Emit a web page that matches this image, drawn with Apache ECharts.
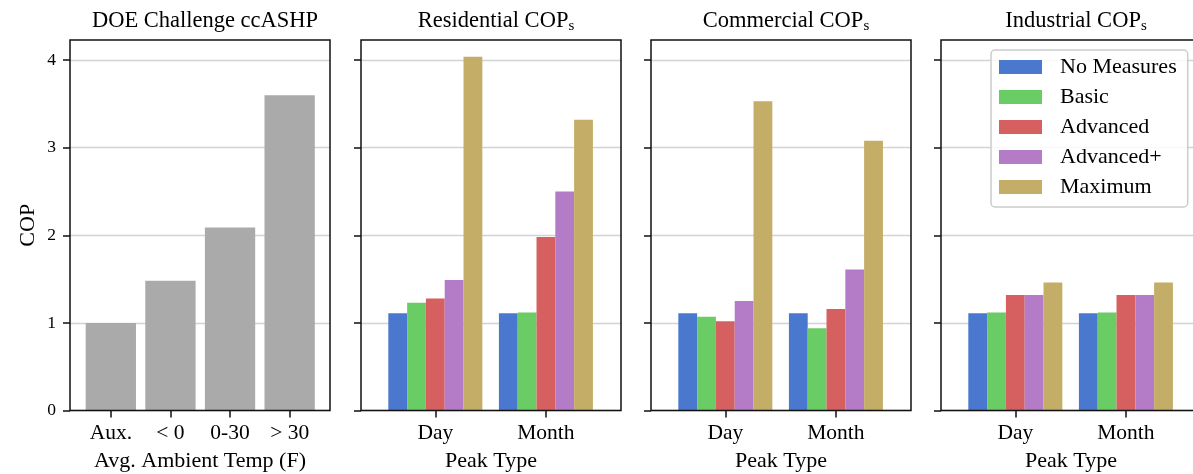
<!DOCTYPE html>
<html>
<head>
<meta charset="utf-8">
<script src="https://cdn.jsdelivr.net/npm/echarts@6.0.0/dist/echarts.min.js"></script>
<style>
  html, body { margin: 0; padding: 0; background: #fff; }
  #container { width: 1193px; height: 474px; }
</style>
</head>
<body>
<div id="container"></div>
<script>
// panel 1: DOE challenge targets
var tempBins = ['Aux.', '< 0', '0-30', '> 30'];
var doeCop = [1.0, 1.48, 2.09, 3.6];

// panels 2-4: grouped by peak type
var peakTypes = ['Day', 'Month'];
var measures = ['No Measures', 'Basic', 'Advanced', 'Advanced+', 'Maximum'];
var measureColors = ['#4a78cf', '#6acc65', '#d65f5f', '#b47cc6', '#c4ad66'];

// one row per measure, [Day, Month]
var residentialCop = [
  [1.11, 1.11],
  [1.23, 1.12],
  [1.28, 1.98],
  [1.49, 2.50],
  [4.04, 3.32]
];
var commercialCop = [
  [1.11, 1.11],
  [1.07, 0.94],
  [1.02, 1.16],
  [1.25, 1.61],
  [3.53, 3.08]
];
var industrialCop = [
  [1.11, 1.11],
  [1.12, 1.12],
  [1.32, 1.32],
  [1.32, 1.32],
  [1.46, 1.46]
];

var yTicks = [0, 1, 2, 3, 4];
var fontFam = 'Liberation Serif';

var chart = echarts.init(document.getElementById('container'));

var gridLefts = [70, 361, 651, 941];
var panelTitles = ['DOE Challenge ccASHP', 'Residential COP{s|s}', 'Commercial COP{s|s}', 'Industrial COP{s|s}'];

var grids = gridLefts.map(function (l) {
  return {
    left: l, top: 40, width: 260, height: 370.5,
    outerBoundsMode: 'none',
    containLabel: false,
    show: true, z: 3,
    backgroundColor: 'transparent',
    borderColor: '#111', borderWidth: 1.5
  };
});

var titles = gridLefts.map(function (l, i) {
  return {
    text: panelTitles[i],
    left: l + 130, top: 4, textAlign: 'center',
    textStyle: {
      fontFamily: fontFam, fontSize: 22.5, fontWeight: 'normal', color: '#000',
      lineHeight: 25,
      rich: {
        s: { fontFamily: fontFam, fontSize: 15, lineHeight: 15, verticalAlign: 'bottom', color: '#000' }
      }
    }
  };
});

function makeX(i) {
  var isFirst = i === 0;
  var labels = isFirst ? tempBins : peakTypes;
  var ticks = labels.map(function (_, k) { return k; });
  return {
    type: 'value', gridIndex: i,
    min: isFirst ? -0.685 : -0.672,
    max: isFirst ? 3.677 : 1.679,
    axisLine: { show: false, onZero: false },
    splitLine: { show: false },
    axisTick: { show: true, customValues: ticks, length: 7, lineStyle: { color: '#111', width: 1.5 } },
    axisLabel: {
      customValues: ticks, margin: 12,
      fontFamily: fontFam, fontSize: 21.5, color: '#000',
      formatter: function (v) { return labels[Math.round(v)]; }
    },
    name: isFirst ? 'Avg. Ambient Temp (F)' : 'Peak Type',
    nameLocation: 'middle', nameGap: 40,
    nameTextStyle: { fontFamily: fontFam, fontSize: 22, color: '#000' }
  };
}

function makeY(i) {
  return {
    type: 'value', gridIndex: i, min: 0, max: 4.23, interval: 1,
    axisLine: { show: false, onZero: false },
    axisTick: { show: true, customValues: yTicks, length: 7, lineStyle: { color: '#111', width: 1.5 } },
    axisLabel: {
      show: i === 0, customValues: yTicks, margin: 14,
      fontFamily: fontFam, fontSize: 17.5, color: '#000'
    },
    splitLine: { show: true, lineStyle: { color: '#d2d2d2', width: 1.3 } },
    name: i === 0 ? 'COP' : '',
    nameLocation: 'middle', nameGap: 31, nameRotate: 90,
    nameTextStyle: { fontFamily: fontFam, fontSize: 22, color: '#000' }
  };
}

var series = [{
  name: 'DOE',
  type: 'bar', xAxisIndex: 0, yAxisIndex: 0,
  barWidth: 50.3,
  itemStyle: { color: '#aaaaaa' },
  data: doeCop.map(function (v, k) { return [k, v]; })
}];

[residentialCop, commercialCop, industrialCop].forEach(function (table, p) {
  measures.forEach(function (m, j) {
    series.push({
      name: m,
      type: 'bar', xAxisIndex: p + 1, yAxisIndex: p + 1,
      barWidth: 18.8, barGap: '0%',
      itemStyle: { color: measureColors[j] },
      data: table[j].map(function (v, k) { return [k, v]; })
    });
  });
});

var option = {
  animation: false,
  title: titles,
  grid: grids,
  xAxis: gridLefts.map(function (_, i) { return makeX(i); }),
  yAxis: gridLefts.map(function (_, i) { return makeY(i); }),
  legend: {
    data: measures,
    orient: 'vertical',
    left: 991, top: 50,
    itemWidth: 43, itemHeight: 14, itemGap: 6,
    icon: 'rect',
    padding: [5, 11, 8, 8],
    backgroundColor: 'rgba(255,255,255,0.85)',
    borderColor: '#cccccc', borderWidth: 1.5, borderRadius: 4,
    textStyle: { fontFamily: fontFam, fontSize: 22, color: '#000', lineHeight: 24, padding: [0, 0, 0, 13] },
    z: 10
  },
  series: series
};

chart.setOption(option);
</script>
</body>
</html>
